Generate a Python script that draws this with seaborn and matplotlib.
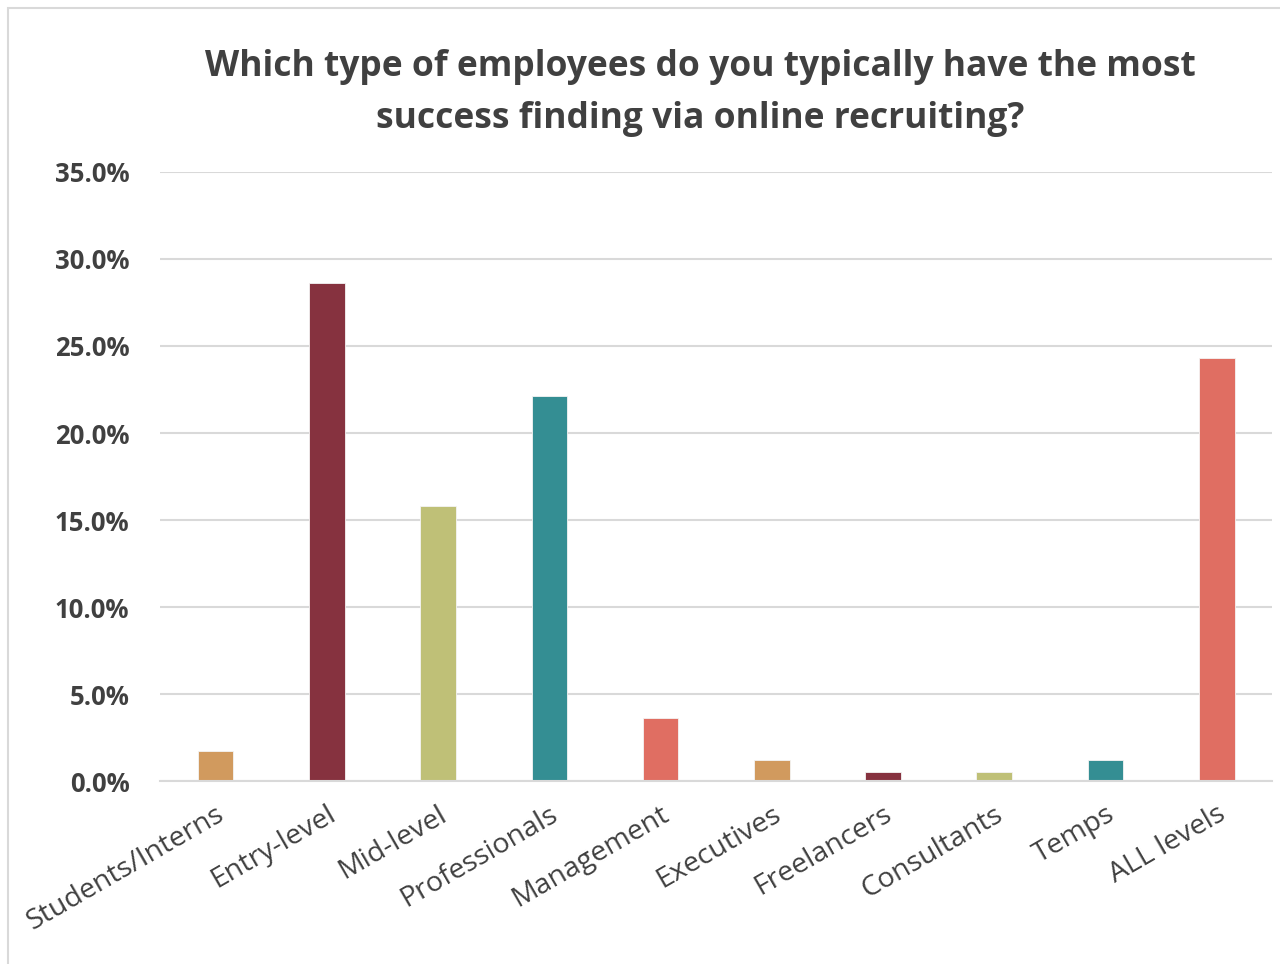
import matplotlib
matplotlib.use("Agg")
import matplotlib.pyplot as plt
from matplotlib.patches import Rectangle
from matplotlib.ticker import FuncFormatter, MultipleLocator
import seaborn as sns
import pandas as pd

categories = ["Students/Interns", "Entry-level", "Mid-level", "Professionals", "Management",
              "Executives", "Freelancers", "Consultants", "Temps", "ALL levels"]
shares = [1.7, 28.6, 15.8, 22.1, 3.6, 1.2, 0.5, 0.5, 1.2, 24.3]
bar_colors = ["#D19A5E", "#86323F", "#BFC077", "#348E93", "#E06E62",
              "#D19A5E", "#86323F", "#BFC077", "#348E93", "#E06E62"]

df = pd.DataFrame({"category": categories, "share": shares})

sns.set_theme(style="white")
plt.rcParams["font.family"] = ["Open Sans", "DejaVu Sans"]

fig = plt.figure(figsize=(12.8, 9.64), dpi=100)
ax = fig.add_axes([0.125, 0.1898, 0.869, 0.6318])

sns.barplot(data=df, x="category", y="share", hue="category",
            palette=bar_colors, saturation=1, width=0.32, legend=False, ax=ax,
            edgecolor="#F4F4F4", linewidth=0.6)

ax.set_ylim(0, 35)
ax.set_xlim(-0.5, len(categories) - 0.5)
ax.yaxis.set_major_locator(MultipleLocator(5))
ax.yaxis.set_major_formatter(FuncFormatter(lambda v, _: f"{v:.1f}%"))
ax.grid(axis="y", color="#D9D9D9", linewidth=1.5)
ax.set_axisbelow(True)
for s in ["top", "right", "left"]:
    ax.spines[s].set_visible(False)
ax.spines["bottom"].set_color("#D9D9D9")
ax.spines["bottom"].set_linewidth(1.5)
ax.set_xlabel("")
ax.set_ylabel("")

ax.tick_params(axis="y", length=0, pad=22, labelsize=18.5, labelcolor="#404040")
for t in ax.get_yticklabels():
    t.set_fontweight("bold")
ax.tick_params(axis="x", length=0, pad=14, labelsize=20.5, labelcolor="#404040")
plt.setp(ax.get_xticklabels(), rotation=30, ha="right", rotation_mode="anchor")

fig.text(0.547, 0.9035, "Which type of employees do you typically have the most\nsuccess finding via online recruiting?",
         ha="center", va="center", fontsize=25.5, fontweight="bold", color="#404040",
         linespacing=1.6)

fig.patches.append(Rectangle((0.006, -0.01), 1.1, 1.0015, transform=fig.transFigure,
                             fill=False, edgecolor="#D9D9D9", linewidth=1.5))

fig.savefig("out.png", dpi=100)
